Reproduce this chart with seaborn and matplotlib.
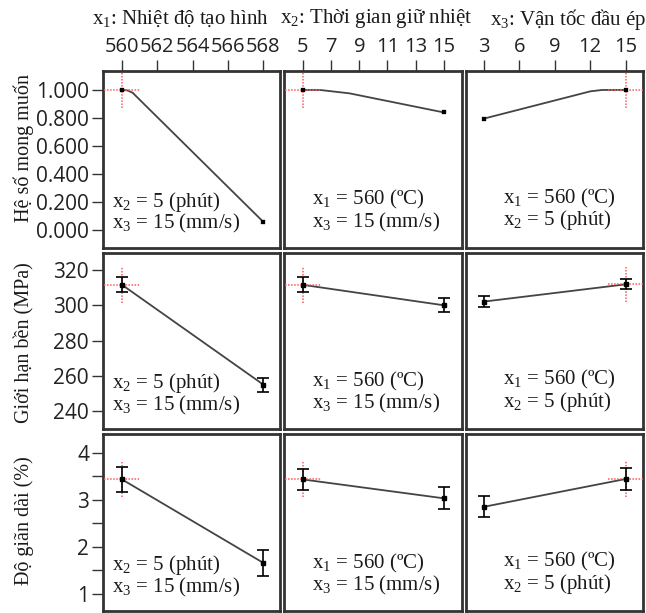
import numpy as np
import pandas as pd
import seaborn as sns
import matplotlib.pyplot as plt
from matplotlib.ticker import MultipleLocator, FormatStrFormatter

# ---------- data ----------
x_opt = [560, 5, 15]          # chosen optimum for x1, x2, x3

# desirability curves
d1_x = [560, 560.3, 560.6, 561, 568]
d1_y = [1.0, 0.997, 0.98, 0.93, 0.06]
d2_x = [5, 6.2, 8.3, 15]
d2_y = [1.0, 1.0, 0.976, 0.84]
d3_x = [3, 12, 13, 15]
d3_y = [0.796, 0.99, 1.0, 1.0]

# tensile strength (MPa) at the two ends of each factor
x1_ends = [560, 568]
x2_ends = [5, 15]
x3_ends = [3, 15]
ts1 = [311.7, 255.0]
ts1_err = [4.3, 4.0]
ts2 = [311.7, 300.1]
ts2_err = [4.3, 4.0]
ts3 = [302.2, 312.0]
ts3_err = [3.0, 2.9]

# elongation (%)
el1 = [3.43, 1.66]
el1_err = [0.27, 0.27]
el2 = [3.43, 3.03]
el2_err = [0.23, 0.23]
el3 = [2.85, 3.44]
el3_err = [0.225, 0.225]

headers = ["x$_1$: Nhiệt độ tạo hình", "x$_2$: Thời gian giữ nhiệt", "x$_3$: Vận tốc đầu ép"]
row_labels = ["Hệ số mong muốn", "Giới hạn bền (MPa)", "Độ giãn dài (%)"]
notes = [["x$_2$ = 5 (phút)", "x$_3$ = 15 (mm/s)"],
         ["x$_1$ = 560 (ºC)", "x$_3$ = 15 (mm/s)"],
         ["x$_1$ = 560 (ºC)", "x$_2$ = 5 (phút)"]]

col_ticks = [[560, 562, 564, 566, 568], [5, 7, 9, 11, 13, 15], [3, 6, 9, 12, 15]]
col_lims = [(558.92, 568.96), (3.68, 16.27), (1.45, 16.47)]
row_lims = [(-0.123, 1.135), (229.6, 330.0), (0.64, 4.387)]

# ---------- style ----------
sns.set_theme(style="white")
plt.rcParams["font.family"] = ["Open Sans", "DejaVu Sans"]
plt.rcParams["mathtext.fontset"] = "custom"
plt.rcParams["mathtext.rm"] = "Liberation Serif"
plt.rcParams["mathtext.default"] = "rm"
serif = ["Liberation Serif", "DejaVu Serif"]
narrow = ["Liberation Sans Narrow", "Open Sans"]

line_c = "#444444"
red = "#ff5a5a"

W, H = 646, 613
fig, axes = plt.subplots(3, 3, figsize=(W / 100, H / 100), dpi=100,
                         sharex="col", sharey="row")
fig.subplots_adjust(left=103 / W, right=643 / W, top=1 - 71 / H,
                    bottom=1 - 611 / H, wspace=0.0226, hspace=0.0283)

for i in range(3):
    for j in range(3):
        ax = axes[i, j]
        ax.set_xlim(*col_lims[j])
        ax.set_ylim(*row_lims[i])
        for s in ax.spines.values():
            s.set_visible(True)
            s.set_linewidth(2.0)
            s.set_color("#333333")
        ax.tick_params(which="both", direction="out", length=8, width=1,
                       color="#333333", labelsize=15, labelcolor="#222222", pad=2)

for j in range(3):
    axes[0, j].set_xticks(col_ticks[j])
axes[0, 0].set_yticks([0, 0.2, 0.4, 0.6, 0.8, 1.0])
axes[0, 0].yaxis.set_major_formatter(FormatStrFormatter("%.3f"))
axes[1, 0].set_yticks([240, 260, 280, 300, 320])
axes[2, 0].set_yticks([1, 2, 3, 4])
axes[2, 0].yaxis.set_minor_locator(MultipleLocator(0.5))

for i in range(3):
    for j in range(3):
        ax = axes[i, j]
        if i == 0:
            ax.tick_params(axis="x", which="both", top=True, bottom=False,
                           labeltop=True, labelbottom=False)
        else:
            ax.tick_params(axis="x", which="both", top=False, bottom=False,
                           labeltop=False, labelbottom=False)
        if j == 0:
            ax.tick_params(axis="y", which="both", left=True, labelleft=True)
        else:
            ax.tick_params(axis="y", which="both", left=False, labelleft=False)
        ax.set_xlabel("")
        ax.set_ylabel("")


def crosshair(ax, x, y):
    x0, x1 = ax.get_xlim()
    y0, y1 = ax.get_ylim()
    dx, dy = 0.10 * (x1 - x0), 0.10 * (y1 - y0)
    kw = dict(color=red, lw=1.1, ls=(0, (1, 1)), zorder=5)
    ax.plot([x - dx, x + dx], [y, y], **kw)
    ax.plot([x, x], [y - dy, y + dy], **kw)


# row 1: desirability
curves = [(d1_x, d1_y), (d2_x, d2_y), (d3_x, d3_y)]
for j, (cx, cy) in enumerate(curves):
    ax = axes[0, j]
    sns.lineplot(x=cx, y=cy, ax=ax, color=line_c, lw=1.3, sort=False,
                 estimator=None)
    sns.scatterplot(x=[cx[0], cx[-1]], y=[cy[0], cy[-1]], ax=ax, marker="s",
                    s=8, color="black", edgecolor="black", zorder=6)
    yo = cy[cx.index(x_opt[j])]
    crosshair(ax, x_opt[j], yo)

# rows 2 and 3: responses with error bars
ends = [x1_ends, x2_ends, x3_ends]
rows = [[(ts1, ts1_err), (ts2, ts2_err), (ts3, ts3_err)],
        [(el1, el1_err), (el2, el2_err), (el3, el3_err)]]
for r, row in enumerate(rows):
    for j, (yv, ye) in enumerate(row):
        ax = axes[r + 1, j]
        df = pd.DataFrame({"x": ends[j], "y": yv})
        sns.lineplot(data=df, x="x", y="y", ax=ax, color=line_c, lw=1.3)
        ax.errorbar(ends[j], yv, yerr=ye, fmt="s", ms=3.2, color="black",
                    ecolor="black", elinewidth=1.2, capsize=4.5, capthick=1.2,
                    zorder=6)
        yo = yv[ends[j].index(x_opt[j])]
        crosshair(ax, x_opt[j], yo)
        ax.set_xlabel("")
        ax.set_ylabel("")

# narrower face for the crowded top tick labels
for j in range(3):
    for lab in axes[0, j].get_xticklabels():
        lab.set_fontfamily(narrow)
        lab.set_fontsize(14.5)

# notes inside panels
note_x = [0.05, 0.156, 0.21]
note_y = [(0.26, 0.135), (0.27, 0.145), (0.28, 0.155)]
for i in range(3):
    for j in range(3):
        ax = axes[i, j]
        for k in range(2):
            ax.text(note_x[j], note_y[j][k], notes[j][k], transform=ax.transAxes,
                    ha="left", va="center", fontsize=15, family=serif,
                    color="#1a1a1a")

# column headers and row labels
head_x = [180.5, 375.8, 646]
head_ha = ["center", "center", "right"]
for j in range(3):
    fig.text(head_x[j] / W, 1 - 19 / H, headers[j], ha=head_ha[j], va="center",
             fontsize=15, family=serif, color="#1a1a1a")
lab_y = [148, 342.5, 520.5]
for i in range(3):
    fig.text(24 / W, 1 - lab_y[i] / H, row_labels[i], rotation=90, ha="center",
             va="center", fontsize=14.5, family=serif, color="#1a1a1a")

fig.savefig("out.png", dpi=100)
